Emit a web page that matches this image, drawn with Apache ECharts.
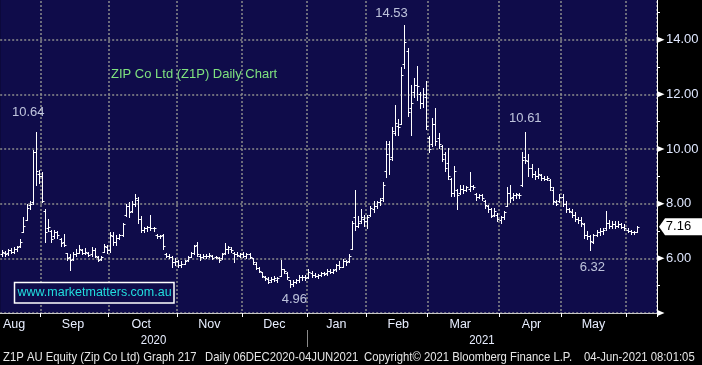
<!DOCTYPE html>
<html><head><meta charset="utf-8">
<script src="https://cdn.jsdelivr.net/npm/echarts@6/dist/echarts.min.js"></script>
<style>html,body{margin:0;padding:0;background:#000;overflow:hidden;}#c{position:absolute;left:0;top:-15px;width:702px;height:380px;}</style>
</head><body><div id="c"></div>
<script>
const FONT = '"Liberation Sans", Arial, sans-serif';

// ---- categories (ASX trading days) ----
const months = ['2020-08','2020-09','2020-10','2020-11','2020-12','2021-01','2021-02','2021-03','2021-04','2021-05','2021-06'];
const monthDays = [
  [13,14,17,18,19,20,21,24,25,26,27,28,31],
  [1,2,3,4,7,8,9,10,11,14,15,16,17,18,21,22,23,24,25,28,29,30],
  [1,2,5,6,7,8,9,12,13,14,15,16,19,20,21,22,23,26,27,28,29,30],
  [2,3,4,5,6,9,10,11,12,13,16,17,18,19,20,23,24,25,26,27,30],
  [1,2,3,4,7,8,9,10,11,14,15,16,17,18,21,22,23,24,29,30,31],
  [4,5,6,7,8,11,12,13,14,15,18,19,20,21,22,25,27,28,29],
  [1,2,3,4,5,8,9,10,11,12,15,16,17,18,19,22,23,24,25,26],
  [1,2,3,4,5,8,9,10,11,12,15,16,17,18,19,22,23,24,25,26,29,30,31],
  [1,6,7,8,9,12,13,14,15,16,19,20,21,22,23,26,27,28,29,30],
  [3,4,5,6,7,10,11,12,13,14,17,18,19,20,21,24,25,26,27,28,31],
  [1,2,3,4,7,8,9,10,11,15]
];
const monthNames = ['Jan','Feb','Mar','Apr','May','Jun','Jul','Aug','Sep','Oct','Nov','Dec'];
const monthLabelDates = ['2020-08-19','2020-09-15','2020-10-15','2020-11-16','2020-12-15','2021-01-15','2021-02-15','2021-03-15','2021-04-19','2021-05-17'];
const yearLabels = ['2020','2021'];
const yearStartDate = '2021-01-04';

// ---- OHLC values ----
const open = [
 6.15,6.20,6.18,6.30,6.25,6.35,6.45,6.95,7.40,7.95,8.05,9.90,9.10,
 9.00,7.75,7.10,7.00,6.80,6.95,6.70,6.60,6.20,6.05,5.98,6.15,6.20,6.30,6.20,6.20,6.15,6.30,6.05,5.98,6.25,6.40,
 6.30,6.80,6.60,6.75,6.85,7.60,7.90,7.75,8.00,8.15,7.45,7.05,7.10,7.15,7.10,6.85,6.80,6.85,6.15,6.10,6.05,5.85,
 5.90,5.75,5.80,5.95,6.05,6.20,6.50,6.10,6.05,6.10,6.10,6.08,6.05,6.00,6.00,6.20,6.35,6.35,6.20,6.15,6.10,
 6.15,6.10,6.15,6.00,5.80,5.65,5.50,5.30,5.25,5.20,5.25,5.20,5.35,5.60,5.45,5.20,5.05,5.15,5.20,5.30,5.30,
 5.30,5.45,5.40,5.35,5.40,5.45,5.45,5.55,5.50,5.60,5.75,5.70,5.90,5.90,6.35,7.50,7.20,7.35,7.45,
 7.35,7.60,7.80,7.90,8.05,8.20,9.20,10.20,9.70,10.60,10.85,10.90,13.10,13.60,11.50,12.10,12.35,12.00,11.70,11.90,
 10.40,10.20,10.90,10.40,10.10,9.80,9.50,8.90,8.40,8.50,8.40,8.55,8.50,8.55,8.65,8.35,8.25,8.30,8.10,7.90,7.80,7.60,7.60,
 7.40,7.50,7.90,8.40,8.25,8.30,8.30,8.70,9.70,9.55,9.30,9.10,9.00,9.05,8.95,8.90,8.85,8.50,8.05,8.10,
 8.25,8.00,7.80,7.70,7.60,7.45,7.40,7.25,6.85,6.80,6.60,6.85,6.95,7.00,7.10,7.30,7.20,7.25,7.20,7.25,7.15,
 7.05,7.00,6.95,6.98
];
const high = [
 6.30,6.28,6.35,6.38,6.40,6.45,6.72,7.50,8.00,8.10,9.95,10.64,9.25,
 9.15,7.80,7.45,7.05,7.05,7.00,6.75,6.88,6.20,6.15,6.22,6.35,6.50,6.35,6.38,6.25,6.40,6.38,6.10,6.10,6.52,6.50,
 6.95,6.95,6.85,6.90,7.30,7.97,8.05,8.10,8.35,8.25,7.55,7.15,7.20,7.60,7.15,6.90,6.85,6.90,6.20,6.15,6.10,6.00,
 5.95,5.90,5.95,6.10,6.25,6.50,6.60,6.15,6.15,6.15,6.18,6.12,6.10,6.05,6.20,6.55,6.45,6.40,6.25,6.22,6.20,
 6.22,6.20,6.20,6.00,5.85,5.70,5.50,5.35,5.30,5.30,5.35,5.30,5.93,5.62,5.50,5.22,5.20,5.25,5.40,5.40,5.38,
 5.60,5.52,5.45,5.42,5.50,5.50,5.60,5.62,5.62,5.80,5.90,5.98,5.95,6.15,7.35,8.50,7.55,7.80,7.60,
 7.60,7.90,8.10,8.10,8.20,8.80,10.30,10.30,10.80,11.60,11.10,13.00,14.53,13.70,12.35,12.60,13.05,12.10,12.25,12.47,
 10.47,11.15,11.50,10.60,10.15,9.90,10.05,8.95,9.37,8.55,8.70,8.70,8.65,9.15,8.70,8.40,8.35,8.35,8.15,7.95,7.85,7.85,7.65,
 7.55,7.75,8.60,8.70,8.40,8.40,8.40,9.90,10.61,9.80,9.45,9.20,9.30,9.10,9.00,9.00,8.90,8.60,8.15,8.35,
 8.35,8.10,7.85,7.80,7.70,7.50,7.50,7.30,7.00,6.85,6.90,7.05,7.10,7.10,7.72,7.40,7.35,7.35,7.35,7.30,7.25,
 7.10,7.05,7.00,7.18
];
const low = [
 6.08,6.10,6.12,6.20,6.20,6.28,6.40,6.95,7.40,7.80,8.00,8.70,8.75,
 8.05,6.60,7.00,6.60,6.75,6.75,6.45,6.45,5.95,5.57,5.95,6.10,6.20,6.15,6.15,6.08,6.10,6.05,5.90,5.95,6.22,6.20,
 6.25,6.50,6.50,6.70,6.80,7.55,7.50,7.70,7.90,7.30,6.95,6.95,7.00,7.05,7.00,6.75,6.75,6.35,6.05,6.00,5.67,5.75,
 5.70,5.67,5.78,5.90,6.05,6.15,6.08,5.95,6.00,6.02,6.05,5.98,6.00,5.85,5.98,6.15,6.20,6.25,5.88,6.08,6.05,
 6.05,6.00,6.00,5.80,5.60,5.50,5.30,5.22,5.10,5.15,5.18,5.15,5.35,5.45,5.25,4.96,5.00,5.10,5.15,5.22,5.22,
 5.28,5.32,5.30,5.28,5.35,5.38,5.40,5.45,5.45,5.55,5.60,5.68,5.75,5.85,6.33,7.05,7.15,7.30,7.20,
 7.10,7.55,7.70,7.85,7.95,8.10,8.96,9.10,9.60,10.50,10.50,10.90,12.95,11.20,10.50,11.90,11.80,11.50,11.55,10.75,
 9.90,10.10,10.15,10.05,9.55,9.20,8.90,8.27,8.27,7.80,8.35,8.40,8.45,8.45,8.55,8.15,8.20,8.15,7.85,7.70,7.50,7.55,7.35,
 7.28,7.45,7.90,8.05,8.15,8.20,8.20,8.65,9.50,9.00,8.96,8.90,8.95,8.88,8.85,8.85,8.50,7.98,7.95,8.05,
 7.90,7.70,7.68,7.50,7.35,7.30,7.17,6.75,6.70,6.32,6.55,6.80,6.85,6.90,7.05,7.10,7.10,7.10,7.15,7.10,7.05,
 6.95,6.90,6.90,6.95
];
const close = [
 6.22,6.15,6.30,6.25,6.35,6.40,6.60,7.20,7.85,8.00,9.90,9.20,9.00,
 8.10,6.95,7.15,6.70,6.95,6.85,6.55,6.50,6.00,5.95,6.15,6.20,6.35,6.20,6.25,6.12,6.30,6.10,5.95,6.05,6.45,6.30,
 6.85,6.60,6.75,6.85,7.25,7.90,7.70,8.00,8.20,7.45,7.05,7.10,7.15,7.10,7.10,6.80,6.80,6.45,6.10,6.05,5.85,5.90,
 5.75,5.80,5.90,6.05,6.20,6.45,6.15,6.05,6.10,6.08,6.12,6.02,6.05,5.95,6.15,6.35,6.40,6.30,6.15,6.12,6.15,
 6.10,6.15,6.05,5.85,5.65,5.55,5.35,5.28,5.15,5.25,5.28,5.28,5.60,5.55,5.30,5.05,5.15,5.20,5.30,5.32,5.28,
 5.50,5.40,5.35,5.40,5.45,5.42,5.55,5.50,5.58,5.75,5.68,5.92,5.85,6.10,7.30,7.20,7.30,7.50,7.35,
 7.50,7.85,7.90,8.05,8.15,8.70,9.80,9.65,10.65,10.95,10.80,12.70,13.90,11.35,11.70,12.35,12.30,11.70,12.00,10.85,
 10.00,10.90,10.30,10.20,9.65,9.30,9.00,8.40,9.20,8.30,8.55,8.50,8.60,8.65,8.60,8.25,8.30,8.20,7.95,7.80,7.55,7.75,7.45,
 7.50,7.70,8.40,8.20,8.30,8.35,8.30,9.60,9.60,9.30,9.10,9.00,9.10,8.95,8.90,8.95,8.60,8.10,8.00,8.25,
 8.00,7.80,7.75,7.60,7.45,7.40,7.30,6.85,6.80,6.65,6.85,6.95,7.00,7.05,7.30,7.20,7.25,7.20,7.25,7.15,7.10,
 7.00,6.95,6.95,7.16
];

// ---- annotations ----
const annoDates  = ['2020-08-28','2021-02-17','2020-12-22','2021-04-15','2021-05-14'];
const annoValues = [10.64, 14.53, 4.96, 10.61, 6.32];
const yMajorTicks = [4, 6, 8, 10, 12, 14];

// ---- build ----
const OFF = 15; // chart canvas starts 15px above the page top
const categories = [];
months.forEach((m, k) => monthDays[k].forEach(d => categories.push(m + '-' + String(d).padStart(2, '0'))));
const ohlc = open.map((o, i) => [categories[i], o, high[i], low[i], close[i]]);
const isMonthStart = i => i > 0 && categories[i].slice(0, 7) !== categories[i - 1].slice(0, 7);

const annoOffsets = [[-7.5, -19], [-13, -12], [4.5, 12.5], [0, -14], [2, 18]];

function renderItem(params, api) {
  const xi = api.value(0);
  const pO = api.coord([xi, api.value(1)]);
  const pH = api.coord([xi, api.value(2)]);
  const pL = api.coord([xi, api.value(3)]);
  const pC = api.coord([xi, api.value(4)]);
  const cx = Math.round(pH[0]) + 0.5;
  const st = { stroke: '#ffffff', lineWidth: 1 };
  const yo = Math.round(pO[1]) + 0.5, yc = Math.round(pC[1]) + 0.5;
  return {
    type: 'group',
    children: [
      { type: 'line', shape: { x1: cx, y1: Math.round(pH[1]), x2: cx, y2: Math.round(pL[1]) + 1 }, style: st },
      { type: 'line', shape: { x1: cx - 2, y1: yo, x2: cx, y2: yo }, style: st },
      { type: 'line', shape: { x1: cx, y1: yc, x2: cx + 2, y2: yc }, style: st }
    ]
  };
}

const NAVY = '#0f0c4a';
const GRIDLINE = { color: '#8c8c8c', width: 1.5, type: [2, 2] };

const chart = echarts.init(document.getElementById('c'), null, { renderer: 'canvas' });
chart.setOption({
  backgroundColor: '#000000',
  animation: false,
  grid: { left: 0, right: 45, top: 0, bottom: 52, show: true, backgroundColor: NAVY, borderWidth: 0 },
  xAxis: {
    type: 'category', data: categories, boundaryGap: true,
    axisLine: { show: true, lineStyle: { color: '#c8c8c8', width: 1 } },
    axisTick: { show: true, interval: i => isMonthStart(i), length: 4, lineStyle: { color: '#ffffff' } },
    axisLabel: {
      interval: (i, v) => monthLabelDates.indexOf(v) >= 0,
      formatter: v => monthNames[+v.slice(5, 7) - 1],
      color: '#e8eeff', fontSize: 12.5, fontFamily: FONT, margin: 5
    },
    splitLine: { show: true, interval: i => isMonthStart(i), lineStyle: GRIDLINE }
  },
  yAxis: {
    type: 'value', position: 'right', min: 4, max: 16, interval: 2,
    axisLine: { show: true, lineStyle: { color: '#ffffff', width: 1 } },
    axisTick: { show: false },
    minorTick: { show: true, splitNumber: 2, length: 3, lineStyle: { color: '#ffffff', width: 1 } },
    axisLabel: {
      formatter: v => v.toFixed(2), color: '#e0e8ff', fontSize: 13, fontFamily: FONT, margin: 9,
      showMinLabel: false, showMaxLabel: false
    },
    splitLine: { show: true, lineStyle: GRIDLINE }
  },
  series: [
    { type: 'custom', renderItem: renderItem, data: ohlc, encode: { x: 0, y: [1, 2, 3, 4] }, z: 5, silent: true },
    {
      type: 'scatter', symbolSize: 1, itemStyle: { color: 'rgba(0,0,0,0)' }, silent: true, z: 6,
      data: annoDates.map((d, k) => ({
        value: [d, annoValues[k]],
        label: { offset: annoOffsets[k] }
      })),
      label: {
        show: true, position: 'inside', color: '#e8f0ff', fontSize: 13, fontFamily: FONT,
        formatter: p => p.value[1].toFixed(2)
      }
    }
  ]
});

// ---- overlays positioned through the axes ----
const xOf = d => chart.convertToPixel({ xAxisIndex: 0 }, d);
const yOf = v => chart.convertToPixel({ yAxisIndex: 0 }, v);
const band = xOf(categories[1]) - xOf(categories[0]);
const xLeft = xOf(categories[0]) - band / 2;
const xRight = xOf(categories[categories.length - 1]) + band / 2;
const xYear = xOf(yearStartDate) - band / 2;
const lastPrice = close[close.length - 1];
const yLast = yOf(lastPrice);

const elements = [];
yMajorTicks.forEach(v => {
  const y = yOf(v);
  elements.push({ type: 'polygon', shape: { points: [[xRight + 0.5, y - 3], [xRight + 7.5, y], [xRight + 0.5, y + 3]] }, style: { fill: '#ffffff' }, z: 10 });
});
elements.push({ type: 'polygon', shape: { points: [[xRight + 2, yLast], [xRight + 8, yLast - 8.5], [702, yLast - 8.5], [702, yLast + 8.5], [xRight + 8, yLast + 8.5]] }, style: { fill: '#ffffff' }, z: 10 });
elements.push({ type: 'text', x: 678.5, y: yLast, style: { text: lastPrice.toFixed(2), fill: '#000000', font: '13px ' + FONT, align: 'center', verticalAlign: 'middle' }, z: 11 });

elements.push({ type: 'text', x: 111, y: 74 + OFF, style: { text: 'ZIP Co Ltd (Z1P) Daily Chart', fill: '#7fe27f', font: '13px ' + FONT, align: 'left', verticalAlign: 'middle' }, z: 10 });

elements.push({ type: 'rect', shape: { x: 14.5, y: 282.5 + OFF, width: 159.5, height: 20.5 }, style: { fill: NAVY, stroke: '#ffffff', lineWidth: 1.5 }, z: 10 });
elements.push({ type: 'text', x: 94.5, y: 293 + OFF, style: { text: 'www.marketmatters.com.au', fill: '#22dede', font: '12.5px ' + FONT, align: 'center', verticalAlign: 'middle' }, z: 11 });

elements.push({ type: 'text', x: (xLeft + xYear) / 2, y: 340.5 + OFF, scaleX: 0.88, style: { text: yearLabels[0], fill: '#e8eeff', font: '13px ' + FONT, align: 'center', verticalAlign: 'middle' }, z: 10 });
elements.push({ type: 'text', x: (xYear + xRight) / 2, y: 340.5 + OFF, scaleX: 0.88, style: { text: yearLabels[1], fill: '#e8eeff', font: '13px ' + FONT, align: 'center', verticalAlign: 'middle' }, z: 10 });
elements.push({ type: 'line', shape: { x1: Math.round(xYear) + 0.5, y1: 330 + OFF, x2: Math.round(xYear) + 0.5, y2: 347 + OFF }, style: { stroke: '#8a8a8a', lineWidth: 1 }, z: 10 });

const footer = [
  [3, 'Z1P AU Equity (Zip Co Ltd) Graph 217'],
  [205, 'Daily 06DEC2020-04JUN2021'],
  [364, 'Copyright\u00a9 2021 Bloomberg Finance L.P.'],
  [584, '04-Jun-2021 08:01:05']
];
footer.forEach(f => elements.push({ type: 'text', x: f[0], y: 357.5 + OFF, scaleX: 0.87, style: { text: f[1], fill: '#e6e6e6', font: '13px ' + FONT, align: 'left', verticalAlign: 'middle' }, z: 10 }));

chart.setOption({ graphic: { elements: elements } });
</script></body></html>
